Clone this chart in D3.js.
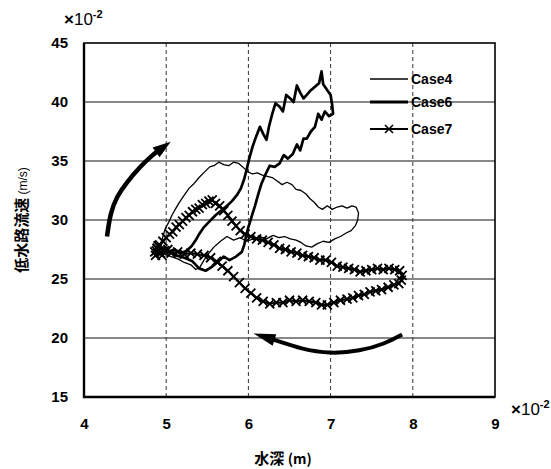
<!DOCTYPE html>
<html>
<head>
<meta charset="utf-8">
<script src="https://cdn.jsdelivr.net/npm/d3@7"></script>
<style>
  html, body { margin: 0; padding: 0; background: #fff; }
  svg { display: block; }
  .tick text { font-family: "Liberation Sans", Arial, sans-serif; font-weight: bold; font-size: 15px; fill: #000; }
</style>
</head>
<body>
<svg id="chart" width="551" height="469"></svg>
<script>
// Depth (×10^-2 m) and channel velocity (×10^-2 m/s) for each run
const case4Depth = [4.92,4.93,4.96,4.99,5.03,5.07,5.11,5.16,5.22,5.28,5.34,5.40,5.47,5.53,5.58,5.64,5.70,5.76,5.82,5.88,5.93,5.99,6.05,6.11,6.17,6.23,6.29,6.35,6.41,6.47,6.53,6.58,6.64,6.70,6.75,6.80,6.85,6.90,6.96,7.02,7.08,7.14,7.20,7.26,7.31,7.34,7.33,7.30,7.25,7.19,7.12,7.05,6.98,6.91,6.84,6.77,6.70,6.64,6.58,6.51,6.44,6.37,6.30,6.22,6.14,6.06,5.98,5.90,5.82,5.74,5.66,5.58,5.52,5.46,5.41,5.36,5.30,5.22,5.14,5.06,4.98,4.93];
const case4Velocity = [27.4,27.9,28.6,29.3,29.8,30.4,30.9,31.5,32.1,32.7,33.1,33.6,34.1,34.5,34.6,34.9,34.7,34.6,34.9,34.8,34.5,34.1,33.9,34.0,33.8,33.7,33.6,33.3,33.0,33.2,33.0,32.6,32.5,32.2,31.8,31.5,31.1,30.9,31.2,30.9,31.1,31.2,31.0,31.2,31.1,30.6,30.0,29.5,29.1,28.9,28.6,28.4,28.1,28.2,28.0,27.7,27.8,28.1,28.3,28.4,28.6,28.5,28.7,28.4,28.6,28.4,28.2,28.5,28.3,28.6,28.2,27.7,27.2,26.6,26.0,25.8,26.2,26.4,26.7,26.9,27.1,27.3];

const case6Depth = [4.88,4.95,5.02,5.10,5.18,5.25,5.31,5.36,5.40,5.46,5.53,5.60,5.67,5.74,5.80,5.86,5.91,5.95,5.98,6.01,6.05,6.09,6.14,6.18,6.22,6.25,6.29,6.33,6.38,6.42,6.46,6.51,6.55,6.59,6.63,6.67,6.71,6.76,6.81,6.86,6.89,6.91,6.96,7.00,7.02,7.03,6.98,6.93,6.89,6.85,6.81,6.76,6.71,6.67,6.63,6.59,6.54,6.48,6.43,6.38,6.32,6.26,6.21,6.16,6.12,6.08,6.04,6.00,5.97,5.95,5.92,5.85,5.77,5.70,5.62,5.55,5.48,5.40,5.32,5.22,5.12,5.02,4.92];
const case6Velocity = [27.8,27.5,27.3,27.5,27.2,27.4,27.8,28.3,28.8,29.4,29.9,30.4,30.8,31.2,31.6,32.1,32.7,33.5,34.3,35.2,36.2,37.0,37.9,37.3,36.8,37.9,39.0,39.9,39.6,39.2,40.6,40.3,40.0,41.4,40.8,40.3,40.6,41.0,41.3,41.6,42.6,41.5,41.0,40.6,39.7,39.0,38.8,39.2,38.5,39.0,37.9,37.5,36.9,36.9,35.9,36.4,35.6,35.2,35.5,34.8,34.5,34.6,33.9,33.1,32.2,31.2,30.3,29.4,28.6,27.9,27.3,26.9,26.6,26.9,26.4,26.0,25.7,25.9,26.5,26.8,27.0,27.4,27.6];

const case7Depth = [4.87,4.89,4.86,4.90,4.88,4.92,4.96,5.00,5.04,5.08,5.12,5.16,5.20,5.24,5.28,5.32,5.36,5.40,5.44,5.48,5.52,5.56,5.60,5.65,5.70,5.75,5.80,5.85,5.90,5.96,6.03,6.10,6.17,6.24,6.31,6.38,6.45,6.52,6.59,6.66,6.73,6.80,6.87,6.94,7.01,7.08,7.15,7.22,7.29,7.36,7.43,7.50,7.57,7.64,7.71,7.78,7.84,7.87,7.86,7.83,7.77,7.70,7.62,7.55,7.48,7.41,7.34,7.27,7.20,7.12,7.04,6.96,6.89,6.82,6.74,6.66,6.58,6.50,6.42,6.34,6.26,6.18,6.10,6.03,5.96,5.89,5.82,5.75,5.68,5.61,5.54,5.46,5.38,5.30,5.22,5.14,5.06,4.98,4.93,4.89,4.95,5.02,4.91];
const case7Velocity = [27.0,27.6,27.3,27.8,27.4,27.9,28.2,28.5,28.8,29.0,29.4,29.6,29.9,30.2,30.4,30.7,30.9,31.0,31.3,31.4,31.6,31.7,31.4,31.2,30.8,30.4,29.9,29.5,29.1,28.8,28.6,28.4,28.3,28.1,27.9,27.6,27.5,27.3,27.2,27.0,26.9,26.8,26.6,26.6,26.4,26.1,26.0,25.9,25.8,25.6,25.7,25.8,25.9,25.8,25.9,25.8,25.7,25.3,24.9,24.6,24.5,24.3,24.1,24.0,23.9,23.7,23.6,23.4,23.3,23.2,23.0,22.8,22.8,23.0,23.1,23.2,23.1,23.2,23.0,23.0,22.9,23.1,23.4,23.8,24.2,24.7,25.2,25.7,26.1,26.5,26.8,27.0,27.1,27.2,27.1,27.3,27.2,27.4,27.2,27.6,27.0,27.5,27.8];

// Axis ticks
const xTicks = [4, 5, 6, 7, 8, 9];
const yTicks = [15, 20, 25, 30, 35, 40, 45];

// Direction arrows (rising limb, falling limb), in data units
const arrowUpDepth = [4.28, 4.32, 4.40, 4.52, 4.68, 4.83, 4.93];
const arrowUpVelocity = [28.6, 30.6, 32.0, 33.2, 34.5, 35.5, 36.0];
const arrowDownDepth = [7.87, 7.66, 7.36, 6.99, 6.63, 6.38, 6.24];
const arrowDownVelocity = [20.3, 19.5, 18.9, 18.65, 19.1, 19.7, 20.0];

const seriesNames = ["Case4", "Case6", "Case7"];

const svg = d3.select("#chart");
const plotLeft = 84, plotRight = 495, plotTop = 43, plotBottom = 397;

const x = d3.scaleLinear().domain([4, 9]).range([plotLeft, plotRight]);
const y = d3.scaleLinear().domain([15, 45]).range([plotBottom, plotTop]);

const sans = '"Liberation Sans", Arial, sans-serif';
const cjk = '"Noto Sans CJK JP", "Noto Sans CJK SC", sans-serif';

// Grid: solid horizontal lines, dashed vertical lines
svg.append("g")
  .selectAll("line")
  .data(yTicks.filter(v => v > 15 && v < 45))
  .join("line")
  .attr("x1", plotLeft).attr("x2", plotRight)
  .attr("y1", d => y(d)).attr("y2", d => y(d))
  .attr("stroke", "#111").attr("stroke-width", 1);

svg.append("g")
  .selectAll("line")
  .data(xTicks.filter(v => v > 4 && v < 9))
  .join("line")
  .attr("x1", d => x(d)).attr("x2", d => x(d))
  .attr("y1", plotTop).attr("y2", plotBottom)
  .attr("stroke", "#333").attr("stroke-width", 1)
  .attr("stroke-dasharray", "4,3");

// Axes (labels only)
const xAxis = svg.append("g")
  .attr("transform", `translate(0,${plotBottom})`)
  .call(d3.axisBottom(x).tickValues(xTicks).tickSize(0).tickPadding(21).tickFormat(d3.format("d")));
xAxis.select(".domain").remove();

const yAxis = svg.append("g")
  .attr("transform", `translate(${plotLeft},0)`)
  .call(d3.axisLeft(y).tickValues(yTicks).tickSize(0).tickPadding(16).tickFormat(d3.format("d")));
yAxis.select(".domain").remove();

// Frame
svg.append("rect")
  .attr("x", plotLeft).attr("y", plotTop)
  .attr("width", plotRight - plotLeft).attr("height", plotBottom - plotTop)
  .attr("fill", "none").attr("stroke", "#000").attr("stroke-width", 1.6);
svg.append("path")
  .attr("d", `M${plotLeft},${plotTop}V${plotBottom}H${plotRight}`)
  .attr("fill", "none").attr("stroke", "#000").attr("stroke-width", 2.4);

// Series
const line = d3.line().x(d => x(d[0])).y(d => y(d[1]));
const zip = (a, b) => a.map((v, i) => [v, b[i]]);

const plot = svg.append("g");

plot.append("path")
  .datum(zip(case4Depth, case4Velocity))
  .attr("d", line)
  .attr("fill", "none").attr("stroke", "#000").attr("stroke-width", 1.3)
  .attr("stroke-linejoin", "round");

plot.append("path")
  .datum(zip(case6Depth, case6Velocity))
  .attr("d", line)
  .attr("fill", "none").attr("stroke", "#000").attr("stroke-width", 2.7)
  .attr("stroke-linejoin", "round");

const c7 = zip(case7Depth, case7Velocity);
plot.append("path")
  .datum(c7)
  .attr("d", line)
  .attr("fill", "none").attr("stroke", "#000").attr("stroke-width", 2.2)
  .attr("stroke-linejoin", "round");

const crossPath = (cx, cy, r) =>
  `M${cx - r},${cy - r}L${cx + r},${cy + r}M${cx - r},${cy + r}L${cx + r},${cy - r}`;

plot.append("g")
  .selectAll("path")
  .data(c7)
  .join("path")
  .attr("d", d => crossPath(x(d[0]), y(d[1]), 4.5))
  .attr("stroke", "#000").attr("stroke-width", 1.8);

// Direction arrows
const smooth = d3.line().x(d => x(d[0])).y(d => y(d[1])).curve(d3.curveBasis);

function drawArrow(depths, vels, width, headLen, headHalf) {
  const pts = zip(depths, vels);
  svg.append("path")
    .datum(pts)
    .attr("d", smooth)
    .attr("fill", "none").attr("stroke", "#000")
    .attr("stroke-width", width).attr("stroke-linecap", "butt");
  const a = pts[pts.length - 2], b = pts[pts.length - 1];
  const ax = x(a[0]), ay = y(a[1]), bx = x(b[0]), by = y(b[1]);
  const len = Math.hypot(bx - ax, by - ay);
  const ux = (bx - ax) / len, uy = (by - ay) / len;
  const tipX = bx + ux * headLen * 0.7, tipY = by + uy * headLen * 0.7;
  const baseX = tipX - ux * headLen, baseY = tipY - uy * headLen;
  svg.append("path")
    .attr("d", `M${tipX},${tipY}L${baseX - uy * headHalf},${baseY + ux * headHalf}L${baseX + uy * headHalf},${baseY - ux * headHalf}Z`)
    .attr("fill", "#000");
}
drawArrow(arrowUpDepth, arrowUpVelocity, 4.5, 18, 6);
drawArrow(arrowDownDepth, arrowDownVelocity, 4, 22, 6);

// Legend
const legend = svg.append("g");
const legendY = [79, 102, 129];
seriesNames.forEach((name, i) => {
  const yy = legendY[i];
  legend.append("line")
    .attr("x1", 370).attr("x2", 408).attr("y1", yy).attr("y2", yy)
    .attr("stroke", "#000").attr("stroke-width", [1.3, 2.8, 1.8][i]);
  if (i === 2) {
    legend.append("path").attr("d", crossPath(389, yy, 4))
      .attr("stroke", "#000").attr("stroke-width", 1.6);
  }
  legend.append("text")
    .attr("x", 411).attr("y", yy + 5)
    .attr("font-family", sans).attr("font-weight", "bold").attr("font-size", 14)
    .text(name);
});

// Axis titles and scale multipliers
const yTitle = svg.append("text")
  .attr("transform", "translate(27,220) rotate(-90)")
  .attr("text-anchor", "middle")
  .attr("font-family", cjk).attr("font-weight", "bold").attr("font-size", 15);
yTitle.append("tspan").text("低水路流速 ");
yTitle.append("tspan").attr("font-size", 12).attr("font-weight", "normal").attr("font-family", sans).text("(m/s)");

const xTitle = svg.append("text")
  .attr("x", 283).attr("y", 464)
  .attr("text-anchor", "middle")
  .attr("font-family", cjk).attr("font-weight", "bold").attr("font-size", 15);
xTitle.append("tspan").text("水深 ");
xTitle.append("tspan").attr("font-size", 14).text("(m)");

function multiplier(px, py) {
  const t = svg.append("text")
    .attr("x", px).attr("y", py)
    .attr("font-family", sans).attr("font-size", 17);
  t.append("tspan").attr("font-weight", "bold").text("×");
  t.append("tspan").text("10");
  t.append("tspan").attr("dy", -7).attr("font-size", 11).attr("font-weight", "bold").text("-2");
}
multiplier(64, 25);
multiplier(511, 415);
</script>
</body>
</html>
